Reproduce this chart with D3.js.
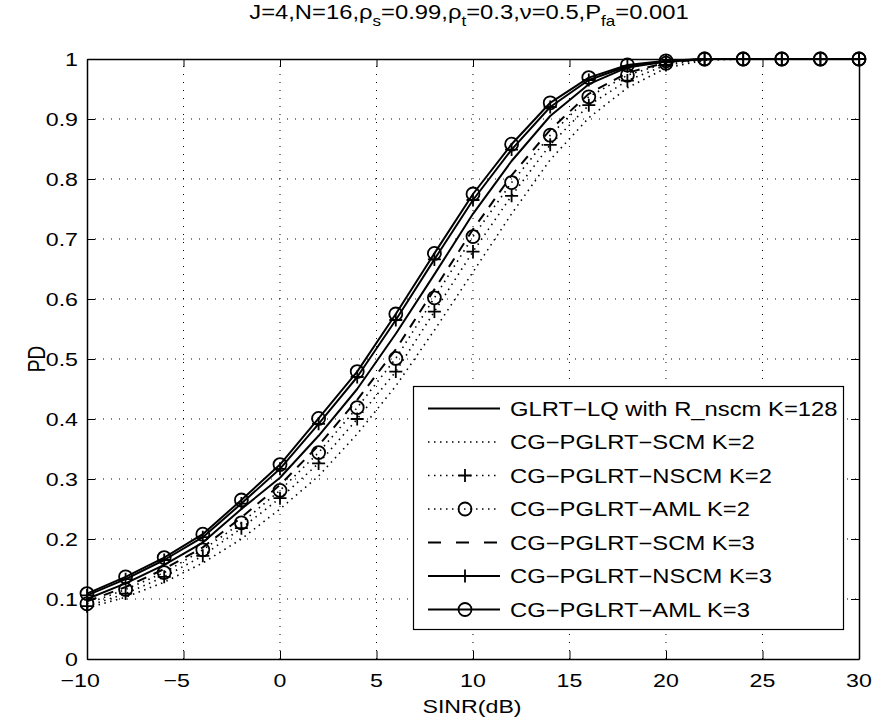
<!DOCTYPE html>
<html><head><meta charset="utf-8">
<script src="https://cdn.jsdelivr.net/npm/d3@7/dist/d3.min.js"></script>
<style>body{margin:0;background:#fff}svg{display:block}text{font-family:"Liberation Sans",Arial,sans-serif;fill:#000}</style>
</head><body><svg id="c" width="874" height="725"></svg>
<script>
const sinr = [-10,-8,-6,-4,-2,0,2,4,6,8,10,12,14,16,18,20,22,24,26,28,30];
const glrtK128 = [0.100,0.126,0.157,0.194,0.250,0.302,0.372,0.450,0.542,0.641,0.742,0.830,0.905,0.958,0.986,0.996,1,1,1,1,1];
const scmK2    = [0.085,0.103,0.128,0.160,0.200,0.250,0.305,0.375,0.455,0.548,0.645,0.742,0.832,0.902,0.952,0.985,0.998,1,1,1,1];
const nscmK2   = [0.088,0.109,0.137,0.172,0.218,0.268,0.326,0.400,0.479,0.579,0.679,0.772,0.857,0.923,0.964,0.990,0.999,1,1,1,1];
const amlK2    = [0.092,0.116,0.144,0.182,0.227,0.281,0.344,0.419,0.501,0.602,0.704,0.794,0.873,0.937,0.973,0.993,1,1,1,1,1];
const scmK3    = [0.096,0.120,0.150,0.186,0.236,0.290,0.356,0.432,0.516,0.616,0.716,0.806,0.882,0.942,0.977,0.994,1,1,1,1,1];
const nscmK3   = [0.106,0.133,0.165,0.203,0.259,0.317,0.392,0.470,0.565,0.666,0.765,0.849,0.920,0.965,0.988,0.996,1,1,1,1,1];
const amlK3    = [0.109,0.137,0.169,0.208,0.265,0.324,0.401,0.479,0.575,0.676,0.775,0.858,0.927,0.969,0.990,0.997,1,1,1,1,1];
const seriesNames = ["GLRT\u2212LQ with R_nscm K=128","CG\u2212PGLRT\u2212SCM K=2","CG\u2212PGLRT\u2212NSCM K=2","CG\u2212PGLRT\u2212AML K=2","CG\u2212PGLRT\u2212SCM K=3","CG\u2212PGLRT\u2212NSCM K=3","CG\u2212PGLRT\u2212AML K=3"];
const xTicks = [-10,-5,0,5,10,15,20,25,30];
const yTicks = [0,0.1,0.2,0.3,0.4,0.5,0.6,0.7,0.8,0.9,1];
const yTickLabels = ["0","0.1","0.2","0.3","0.4","0.5","0.6","0.7","0.8","0.9","1"];

const styles = [
  {v:glrtK128, dash:null, w:2, marker:null},
  {v:scmK2, dash:"1.5,4.5", w:1.6, marker:null},
  {v:nscmK2, dash:"1.5,4.5", w:1.6, marker:"plus"},
  {v:amlK2, dash:"1.5,4.5", w:1.6, marker:"circle"},
  {v:scmK3, dash:"10,8", w:2, marker:null},
  {v:nscmK3, dash:null, w:2, marker:"plus"},
  {v:amlK3, dash:null, w:2, marker:"circle"}
];

const svg = d3.select("#c");
const L=87,R=859,T=59,B=659;
const x = d3.scaleLinear().domain([-10,30]).range([L,R]);
const y = d3.scaleLinear().domain([0,1]).range([B,T]);
const SX = 1.22, FS = 19;

function stext(g, px, py, str, anchor, size){
  return g.append("text").attr("transform",`translate(${px},${py}) scale(${SX},1)`)
    .attr("text-anchor",anchor||"start").style("font-size",(size||FS)+"px").text(str);
}

// grid
const grid = svg.append("g").attr("stroke","#000").attr("stroke-width",1).attr("stroke-dasharray","1,7");
xTicks.slice(1,-1).forEach(v=>grid.append("line").attr("x1",x(v)).attr("x2",x(v)).attr("y1",B).attr("y2",T));
yTicks.slice(1,-1).forEach(v=>grid.append("line").attr("x1",L).attr("x2",R).attr("y1",y(v)).attr("y2",y(v)));

// axes with inward ticks
const ax = svg.append("g");
ax.append("g").attr("transform",`translate(0,${B})`).call(d3.axisBottom(x).tickValues(xTicks).tickSizeInner(-8).tickSizeOuter(0).tickFormat(""));
ax.append("g").attr("transform",`translate(0,${T})`).call(d3.axisTop(x).tickValues(xTicks).tickSizeInner(-8).tickSizeOuter(0).tickFormat(""));
ax.append("g").attr("transform",`translate(${L},0)`).call(d3.axisLeft(y).tickValues(yTicks).tickSizeInner(-8).tickSizeOuter(0).tickFormat(""));
ax.append("g").attr("transform",`translate(${R},0)`).call(d3.axisRight(y).tickValues(yTicks).tickSizeInner(-8).tickSizeOuter(0).tickFormat(""));
ax.selectAll("path.domain").attr("stroke","#000").attr("stroke-width",1.5);
ax.selectAll(".tick line").attr("stroke","#000").attr("stroke-width",1);

// tick labels (digits centred on tick, minus sign hangs left)
const lab = svg.append("g");
xTicks.forEach(v=>{
  const digits = String(Math.abs(v));
  const t = stext(lab, x(v), 687, (v<0?"\u2212":"")+digits, "end");
  const tmp = lab.append("text").style("font-size",FS+"px").text(digits);
  const dw = tmp.node().getComputedTextLength()*SX; tmp.remove();
  t.attr("transform",`translate(${x(v)+dw/2},687) scale(${SX},1)`);
});
yTicks.forEach((v,i)=>stext(lab, L-9, y(v)+7, yTickLabels[i], "end"));

// axis titles
stext(lab, 472, 713, "SINR(dB)", "middle");
lab.append("text").attr("transform",`translate(45,${(T+B)/2}) scale(${SX},1) rotate(-90)`).attr("text-anchor","middle").style("font-size",FS+"px").text("PD");

// title
const tt = lab.append("text").attr("transform",`translate(469,19) scale(${SX},1)`).attr("text-anchor","middle").style("font-size","19.5px");
const parts = [["J=4,N=16,\u03c1",0],["s",1],["=0.99,\u03c1",0],["t",1],["=0.3,\u03bd=0.5,P",0],["fa",1],["=0.001",0]];
let cur=0;
parts.forEach(([s,sub])=>{
  const sp = tt.append("tspan").text(s);
  const target = sub?7:0;
  sp.attr("dy",target-cur); cur=target;
  if(sub) sp.style("font-size","14px");
});

// series
const line = d3.line().x((d,i)=>x(sinr[i])).y(d=>y(d));
const plot = svg.append("g");
function drawMarker(g, type, cx, cy){
  if(type==="circle") g.append("circle").attr("cx",cx).attr("cy",cy).attr("r",6.5).attr("fill","none").attr("stroke","#000").attr("stroke-width",1.8);
  else if(type==="plus") g.append("path").attr("d",`M${cx-6.5},${cy}H${cx+6.5}M${cx},${cy-6.5}V${cy+6.5}`).attr("stroke","#000").attr("stroke-width",1.8);
}
styles.forEach(s=>{
  plot.append("path").datum(s.v).attr("d",line).attr("fill","none").attr("stroke","#000")
    .attr("stroke-width",s.w).attr("stroke-dasharray",s.dash).attr("stroke-linejoin","round");
});
styles.forEach(s=>{
  if(s.marker) s.v.forEach((d,i)=>drawMarker(plot, s.marker, x(sinr[i]), y(d)));
});

// legend
const lg = svg.append("g");
lg.append("rect").attr("x",413.5).attr("y",386.5).attr("width",430).attr("height",243).attr("fill","#fff").attr("stroke","#000").attr("stroke-width",1.2);
styles.forEach((s,i)=>{
  const cy = 408.5 + i*33.5;
  lg.append("line").attr("x1",428).attr("x2",500).attr("y1",cy).attr("y2",cy).attr("stroke","#000")
    .attr("stroke-width",s.w).attr("stroke-dasharray",s.dash==="10,8"?"13,15":s.dash);
  if(s.marker) drawMarker(lg, s.marker, 465, cy);
  stext(lg, 510, cy+7, seriesNames[i], "start", 19.5);
});
</script></body></html>
